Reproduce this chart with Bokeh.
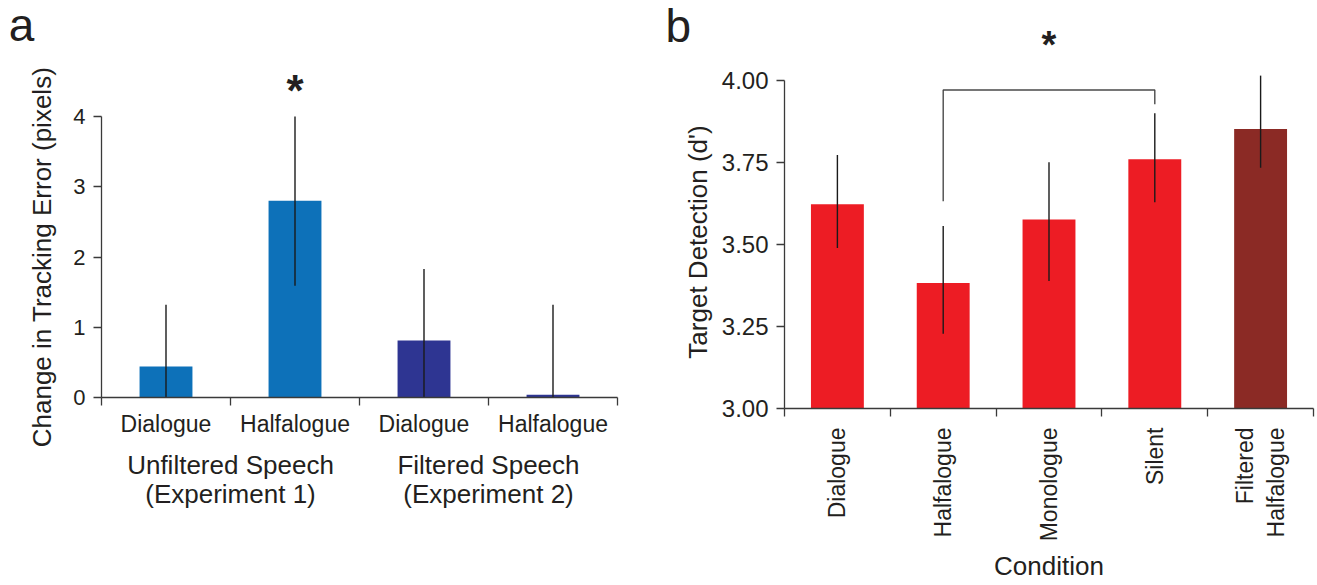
import math
from bokeh.plotting import figure
from bokeh.layouts import row, column
from bokeh.models import Range1d, FixedTicker, Label, LinearAxis, Title
from bokeh.embed import file_html
from bokeh.resources import INLINE

# ---------------- data: panel a ----------------
a_conditions = ["Dialogue", "Halfalogue", "Dialogue", "Halfalogue"]
a_groups = ["Unfiltered Speech\n(Experiment 1)", "Filtered Speech\n(Experiment 2)"]
a_means = [0.44, 2.80, 0.81, 0.04]
a_err = [0.88, 1.21, 1.02, 1.28]
a_colors = ["#0D71B9", "#0D71B9", "#2E3592", "#2E3592"]
a_yticks = [0, 1, 2, 3, 4]
a_ylabel = "Change in Tracking Error (pixels)"
a_sig_index = 1

# ---------------- data: panel b ----------------
b_conditions = ["Dialogue", "Halfalogue", "Monologue", "Silent", "Filtered\nHalfalogue"]
b_means = [3.622, 3.382, 3.576, 3.759, 3.851]
b_err_low = [3.489, 3.228, 3.388, 3.628, 3.733]
b_err_high = [3.772, 3.556, 3.750, 3.899, 4.015]
b_colors = ["#ED1C24", "#ED1C24", "#ED1C24", "#ED1C24", "#8B2A25"]
b_yticks = [3.00, 3.25, 3.50, 3.75, 4.00]
b_ylabel = "Target Detection (d')"
b_xlabel = "Condition"
b_bracket_pair = [1, 3]
b_bracket_top = 3.970
b_bracket_legs = [3.631, 3.927]

FONT = "Liberation Sans"
TXT = "#231F20"
AX = "#3A3A3A"
ERR = "#1A1A1A"
H = 585
TOP_A = 52
TOP_B = 66


def style(p):
    p.outline_line_color = None
    p.xgrid.visible = False
    p.ygrid.visible = False
    p.background_fill_color = "white"
    p.border_fill_color = "white"
    p.frame_align = False
    for ax in (p.xaxis[0], p.yaxis[0]):
        ax.axis_line_color = AX
        ax.axis_line_width = 1.3
        ax.major_label_text_font = FONT
        ax.major_label_text_color = TXT
        ax.minor_tick_line_color = AX
        ax.minor_tick_line_width = 1.3
        ax.major_tick_line_color = AX
        ax.major_tick_line_width = 1.3
        ax.axis_label_text_font = FONT
        ax.axis_label_text_font_style = "normal"
        ax.axis_label_text_color = TXT
        ax.axis_label_text_font_size = "26px"


def strip_fig(w, h):
    s = figure(width=w, height=h, x_range=Range1d(0, w), y_range=Range1d(0, h),
               x_axis_type=None, y_axis_type=None, output_backend="svg", toolbar_location=None,
               min_border_left=0, min_border_right=0, min_border_top=0, min_border_bottom=0)
    s.outline_line_color = None
    s.xgrid.visible = False
    s.ygrid.visible = False
    s.frame_align = False
    return s


def label(p, text, x, y, size=23, align="center", baseline="middle", style_="normal"):
    p.add_layout(Label(x=x, y=y, text=text, text_font=FONT, text_font_size=f"{size}px",
                       text_color=TXT, text_align=align, text_baseline=baseline,
                       text_font_style=style_))


# ================= panel a =================
strip_a = strip_fig(660, TOP_A)
label(strip_a, "a", 8.3, TOP_A - 24.8, size=46, align="left")

pa = figure(width=660, height=H - TOP_A, x_range=Range1d(0, 4), y_range=Range1d(0, 4),
            output_backend="svg", toolbar_location=None,
            min_border_left=101, min_border_right=43, min_border_top=64, min_border_bottom=188)
style(pa)

a_x = [i + 0.5 for i in range(len(a_conditions))]
a_lo = [max(0.0, m - e) for m, e in zip(a_means, a_err)]
a_hi = [m + e for m, e in zip(a_means, a_err)]
pa.vbar(x=a_x, width=0.41, top=a_means, bottom=0, fill_color=a_colors, line_color=None)
pa.segment(x0=a_x, y0=a_lo, x1=a_x, y1=a_hi, line_color=ERR, line_width=1.4)

xa = pa.xaxis[0]
xa.bounds = (0, len(a_conditions))
xa.ticker = FixedTicker(ticks=a_x, minor_ticks=list(range(len(a_conditions) + 1)))
xa.major_label_overrides = {x: c for x, c in zip(a_x, a_conditions)}
xa.major_tick_out = 0
xa.major_tick_in = 0
xa.major_tick_line_color = None
xa.minor_tick_out = 8
xa.minor_tick_in = 0
xa.major_label_text_font_size = "23px"
xa.major_label_standoff = 5

# second row of category labels (experiment groups)
g_x = [2 * i + 1.0 for i in range(len(a_groups))]
ga = LinearAxis(ticker=FixedTicker(ticks=g_x, minor_ticks=[]),
                major_label_overrides={x: g for x, g in zip(g_x, a_groups)},
                axis_line_color=None, major_tick_line_color=None, minor_tick_line_color=None,
                major_tick_out=0, major_tick_in=0,
                major_label_text_font=FONT, major_label_text_font_size="26px",
                major_label_text_color=TXT, major_label_text_line_height=0.98,
                major_label_standoff=10)
pa.add_layout(ga, "below")

ya = pa.yaxis[0]
ya.bounds = (0, 4)
ya.ticker = FixedTicker(ticks=a_yticks)
ya.major_tick_out = 8
ya.major_tick_in = 0
ya.minor_tick_line_color = None
ya.major_label_text_font_size = "22px"
ya.major_label_standoff = 8
ya.axis_label = a_ylabel
ya.axis_label_standoff = 13

# significance star above the Halfalogue bar (unfiltered)
star_w = 0.389 * 44
pa.add_layout(Title(text="*", align="left", offset=516 * a_x[a_sig_index] / 4 - star_w / 2,
                    text_font=FONT, text_font_size="44px", text_font_style="bold",
                    text_color=TXT, standoff=3, vertical_align="bottom"), "above")

# ================= panel b =================
strip_b = strip_fig(657, TOP_B)
label(strip_b, "b", 5, TOP_B - 25.8, size=46, align="left")

pb = figure(width=657, height=H - TOP_B, x_range=Range1d(0, 5), y_range=Range1d(3, 3 + 333 / 328.3),
            output_backend="svg", toolbar_location=None,
            min_border_left=124, min_border_right=4, min_border_top=75 - TOP_B, min_border_bottom=177)
style(pb)

b_x = [i + 0.5 for i in range(len(b_conditions))]
pb.vbar(x=b_x, width=0.5, top=b_means, bottom=3, fill_color=b_colors, line_color=None)
pb.segment(x0=b_x, y0=b_err_low, x1=b_x, y1=b_err_high, line_color=ERR, line_width=1.4)

bl, br = b_x[b_bracket_pair[0]], b_x[b_bracket_pair[1]]
pb.line(x=[bl, bl, br, br], y=[b_bracket_legs[0], b_bracket_top, b_bracket_top, b_bracket_legs[1]],
        line_color="#4A4A4A", line_width=1.4)

xb = pb.xaxis[0]
xb.bounds = (0, len(b_conditions))
xb.ticker = FixedTicker(ticks=b_x, minor_ticks=list(range(len(b_conditions) + 1)))
xb.major_label_overrides = {x: c for x, c in zip(b_x, b_conditions)}
xb.major_label_orientation = math.pi / 2
xb.major_tick_out = 0
xb.major_tick_in = 0
xb.major_tick_line_color = None
xb.minor_tick_out = 8
xb.minor_tick_in = 0
xb.major_label_text_font_size = "23px"
xb.major_label_standoff = 11
xb.axis_label = b_xlabel
xb.axis_label_standoff = 7

yb = pb.yaxis[0]
yb.bounds = (3, 4)
yb.ticker = FixedTicker(ticks=b_yticks)
yb.major_label_overrides = {t: f"{t:.2f}" for t in b_yticks}
yb.major_tick_out = 8
yb.major_tick_in = 0
yb.minor_tick_line_color = None
yb.major_label_text_font_size = "24px"
yb.major_label_standoff = 8
yb.axis_label = b_ylabel
yb.axis_label_standoff = 6

# significance star over the bracket (in the strip, pixel coordinates)
label(strip_b, "*", 124 + 529 * ((bl + br) / 2) / len(b_conditions), TOP_B - 44.6,
      size=38, style_="bold")

layout = row(column(strip_a, pa), column(strip_b, pb))
open("out.html", "w").write(file_html(layout, INLINE))
